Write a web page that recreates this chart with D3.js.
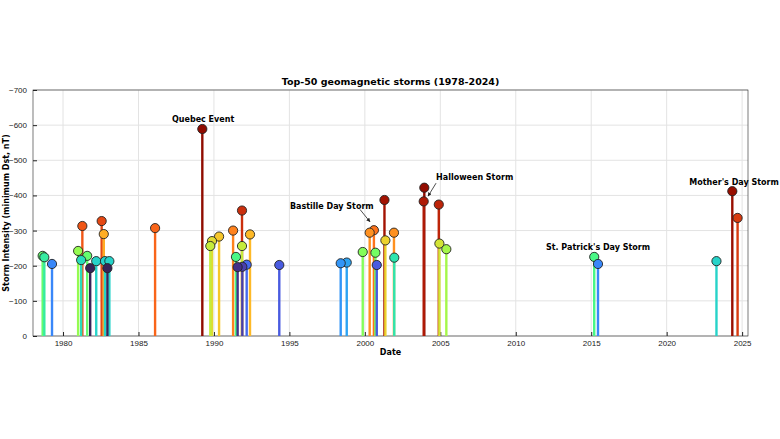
<!DOCTYPE html>
<html><head><meta charset="utf-8">
<script src="https://cdn.jsdelivr.net/npm/d3@7"></script>
<style>
body{margin:0;background:#fff;font-family:"DejaVu Sans",sans-serif;}
.grid line{stroke:#e3e3e3;}
.axis text{font-size:8px;fill:#222;}
.axis path,.axis line{stroke:#222;}
</style></head>
<body><svg id="chart" width="780" height="439"></svg>
<script>
// storm dates (decimal years) and minimum Dst (nT)
var years = [1978.65,1978.76,1979.27,1981.0,1981.28,1981.2,1981.6,1981.8,1982.2,1982.56,1982.7,1982.78,1982.94,1983.07,1986.1,
	1989.23,1989.76,1989.87,1990.34,1991.27,1991.46,1991.57,1991.86,1991.86,1991.88,1992.17,1992.39,1994.33,
	1998.4,1998.8,1999.86,2000.32,2000.6,2000.7,2000.79,2001.3,2001.36,2001.93,2001.95,2003.94,2003.9,2004.9,2004.94,2005.4,
	2015.2,2015.45,2023.3,2024.35,2024.7];
var dst = [-228,-224,-205,-242,-313,-216,-228,-193,-213,-327,-290,-213,-193,-213,-307,
	-589,-256,-270,-283,-300,-225,-196,-357,-256,-197,-203,-289,-202,
	-207,-209,-239,-294,-301,-237,-202,-387,-272,-294,-223,-422,-383,-374,-263,-247,
	-225,-205,-213,-412,-336];
var yTicks = [0,-100,-200,-300,-400,-500,-600,-700];
var xTicks = [1980,1985,1990,1995,2000,2005,2010,2015,2020,2025];
var labels = [
	{t:"Quebec Event", x:1987.22, y:-609},
	{t:"Bastille Day Storm", x:1995.04, y:-361},
	{t:"Halloween Storm", x:2004.72, y:-444},
	{t:"St. Patrick's Day Storm", x:2012.0, y:-245},
	{t:"Mother's Day Storm", x:2021.5, y:-430}
];

var L = 33, R = 748, T = 90, B = 336;
var svg = d3.select("#chart");
var x = d3.scaleLinear().domain([1978.01, 2025.39]).range([L, R]);
var y = d3.scaleLinear().domain([0, -700]).range([B, T]);
var col = d3.scaleSequentialQuantile(d3.interpolateTurbo).domain(dst.map(function(v){ return -v; }));

svg.append("g").attr("class","grid").selectAll("line.h").data(yTicks).enter().append("line")
	.attr("x1",L).attr("x2",R).attr("y1",y).attr("y2",y);
svg.append("g").attr("class","grid").selectAll("line.v").data(xTicks).enter().append("line")
	.attr("y1",T).attr("y2",B).attr("x1",x).attr("x2",x);
svg.append("rect").attr("x",L).attr("y",T).attr("width",R-L).attr("height",B-T)
	.attr("fill","none").attr("stroke","#222").attr("stroke-width",0.6);

svg.append("g").attr("class","axis").attr("transform","translate(0,"+B+")")
	.call(d3.axisBottom(x).tickValues(xTicks).tickFormat(d3.format("d")).tickSize(-4).tickPadding(4))
	.select(".domain").remove();
svg.append("g").attr("class","axis").attr("transform","translate("+L+",0)")
	.call(d3.axisLeft(y).tickValues(yTicks).tickSize(-4).tickPadding(6))
	.select(".domain").remove();

var pts = years.map(function(d,i){ return {x:d, v:dst[i]}; });
pts.sort(function(a,b){ return a.v - b.v; });
var g = svg.append("g");
g.selectAll("line").data(pts).enter().append("line")
	.attr("x1",function(d){return x(d.x);}).attr("x2",function(d){return x(d.x);})
	.attr("y1",B).attr("y2",function(d){return y(d.v);})
	.attr("stroke",function(d){return col(-d.v);}).attr("stroke-width",2.4);
g.selectAll("circle").data(pts).enter().append("circle")
	.attr("cx",function(d){return x(d.x);}).attr("cy",function(d){return y(d.v);})
	.attr("r",4.6).attr("fill",function(d){return col(-d.v);})
	.attr("stroke","#222").attr("stroke-width",0.9);

svg.selectAll("text.lab").data(labels).enter().append("text")
	.attr("x",function(d){return x(d.x);}).attr("y",function(d){return y(d.y);})
	.attr("font-size",8).attr("font-weight","bold").text(function(d){return d.t;});

// arrows
svg.append("defs").append("marker").attr("id","ah").attr("viewBox","0 0 10 10").attr("refX",9).attr("refY",5)
	.attr("markerWidth",5).attr("markerHeight",5).attr("orient","auto")
	.append("path").attr("d","M0,0L10,5L0,10z").attr("fill","#222");
svg.append("line").attr("x1",x(1999.68)).attr("y1",y(-360)).attr("x2",x(2000.34)).attr("y2",y(-325))
	.attr("stroke","#222").attr("stroke-width",0.8).attr("marker-end","url(#ah)");
svg.append("line").attr("x1",x(2004.72)).attr("y1",y(-435)).attr("x2",x(2004.19)).attr("y2",y(-398))
	.attr("stroke","#222").attr("stroke-width",0.8).attr("marker-end","url(#ah)");

svg.append("text").attr("x",(L+R)/2).attr("y",85).attr("text-anchor","middle")
	.attr("font-size",9.5).attr("font-weight","bold").text("Top-50 geomagnetic storms (1978-2024)");
svg.append("text").attr("x",(L+R)/2).attr("y",355).attr("text-anchor","middle")
	.attr("font-size",8).attr("font-weight","bold").text("Date");
svg.append("text").attr("transform","translate(9,"+((T+B)/2)+") rotate(-90)").attr("text-anchor","middle")
	.attr("font-size",8).attr("font-weight","bold").text("Storm Intensity (minimum Dst, nT)");
</script></body></html>
